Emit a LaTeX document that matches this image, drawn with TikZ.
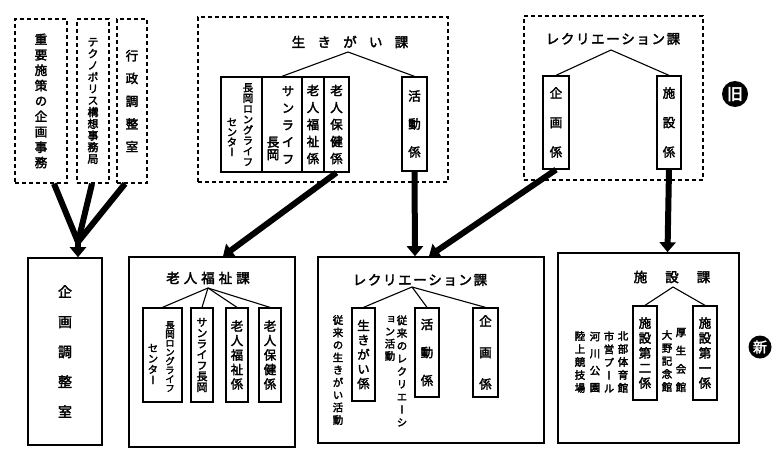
\documentclass[tikz,border=0pt]{standalone}
\usepackage{fontspec}
\newfontfamily\jfont{Noto Sans CJK JP}[FakeBold=2.6]
\newfontfamily\jvfont{Noto Sans CJK JP}[RawFeature=+vert,FakeBold=2.6]
\usetikzlibrary{arrows.meta}
\newcommand\jh[1]{\jfont\fontsize{#1}{#1}\selectfont}
\newcommand\jv[1]{\jvfont\fontsize{#1}{#1}\selectfont}
\ExplSyntaxOn
\NewDocumentCommand \tate { O{14} m }
  {
    \vbox { \baselineskip = #1 pt \relax \lineskiplimit = -100pt \relax
      \tl_map_inline:nn {#2} { \hbox_to_wd:nn { 1em } { \hss ##1 \hss } } }
  }
\NewDocumentCommand \yoko { O{16} m }
  { \tl_map_inline:nn {#2} { \hbox_to_wd:nn { #1 pt } { \hss ##1 \hss } } }
\ExplSyntaxOff

\begin{document}
\begin{tikzpicture}[x=1pt, y=-1pt,
  oldbox/.style={draw, dash pattern=on 4pt off 3pt, line width=1.5pt, inner sep=0pt, font=\jv{12.5pt}},
  newbox/.style={draw, line width=1.6pt, inner sep=0pt, font=\jv{14pt}},
  unit/.style={draw, line width=1.3pt, inner sep=0pt, font=\jv{12.5pt}},
  tatetext/.style={inner sep=0pt, font=\jv{10.5pt}},
  ka/.style={inner sep=0pt, font=\jh{13.5pt}},
  branch/.style={line width=1.1pt},
  bar/.style={line width=6pt},
  transfer/.style={line width=6pt, -{Triangle[length=10pt,width=16pt]}},
  stamp/.style={circle, fill=black, text=white, inner sep=0pt, font=\jh{14pt}}]
\useasboundingbox (0,0) rectangle (779,450);
% old organization
\node[oldbox, minimum width=52pt, minimum height=164pt] (oJuyo) at (41,101) {\tate[15.4]{重要施策の企画事務}};
\node[oldbox, minimum width=32pt, minimum height=164pt, font=\jv{11pt}] (oTechno) at (93,101) {\tate[11.7]{テクノポリス構想事務局}};
\node[oldbox, minimum width=30pt, minimum height=164pt] (oGyosei) at (132,101) {\tate[22.75]{行政調整室}};
\node[oldbox, minimum width=250pt, minimum height=165pt] (oIkigai) at (323,99.5) {};
\node[ka] (oIkigaiT) at (350,42) {\yoko[25.75]{生きがい課}};
\coordinate (kIkigai) at (348,52);
\node[unit, minimum width=41pt, minimum height=95pt] (oLong) at (241.5,124.5) {};
\node[unit, minimum width=40pt, minimum height=95pt] (oSun) at (282,124.5) {};
\node[unit, minimum width=22pt, minimum height=95pt] (oFukushi) at (313,124.5) {\tate[17]{老人福祉係}};
\node[unit, minimum width=25pt, minimum height=95pt] (oHoken) at (336.5,124.5) {\tate[17]{老人保健係}};
\node[tatetext] (oLongA) at (248,124.5) {\tate[10.6]{長岡ロングライフ}};
\node[tatetext] (oLongB) at (232,137) {\tate[10]{センター}};
\node[tatetext, font=\jv{12.5pt}] (oSunA) at (288,125) {\tate[17]{サンライフ}};
\node[tatetext, font=\jv{12.5pt}] (oSunB) at (273,148.5) {\tate[12.5]{長岡}};
\node[unit, minimum width=25pt, minimum height=94pt] (oKatsudo) at (414.5,124) {\tate[28]{活動係}};
\draw[branch] (oSun.north) -- (kIkigai) -- (oKatsudo.north);
\node[oldbox, minimum width=179pt, minimum height=164pt] (oRec) at (613.5,98) {};
\node[ka] (oRecT) at (613,39) {\yoko[15.1]{レクリエーション課}};
\coordinate (kRec) at (611,50);
\node[unit, minimum width=26pt, minimum height=93pt] (oKikaku) at (556,122.5) {\tate[29.5]{企画係}};
\node[unit, minimum width=24pt, minimum height=93pt] (oShisetsu) at (669,122.5) {\tate[29.5]{施設係}};
\draw[branch] (oKikaku.north) -- (kRec) -- (oShisetsu.north);
\node[stamp, minimum size=26pt, font=\jh{16pt}] (oldMark) at (735,94) {旧};
% new organization
\node[newbox, minimum width=74pt, minimum height=187pt] (nKikakuChosei) at (65,351.5) {\tate[30]{企画調整室}};
\node[newbox, minimum width=166pt, minimum height=190pt] (nRoujin) at (212,352) {};
\node[ka] (nRoujinT) at (208,278) {\yoko[17.5]{老人福祉課}};
\coordinate (kRoujin) at (208,288);
\node[unit, minimum width=39pt, minimum height=94pt] (nLong) at (162.5,355) {};
\node[tatetext, font=\jv{9.5pt}] (nLongA) at (170,356.5) {\tate[9]{長岡ロングライフ}};
\node[tatetext] (nLongB) at (153,364) {\tate[10.7]{センター}};
\node[unit, minimum width=22pt, minimum height=94pt, font=\jv{11pt}] (nSun) at (202,355) {\tate[10.8]{サンライフ長岡}};
\node[unit, minimum width=22pt, minimum height=94pt] (nFukushi) at (237,355) {\tate[14.5]{老人福祉係}};
\node[unit, minimum width=22pt, minimum height=94pt] (nHoken) at (270,355) {\tate[14.5]{老人保健係}};
\draw[branch] (kRoujin) -- (nLong.north);
\draw[branch] (kRoujin) -- (nSun.north);
\draw[branch] (kRoujin) -- (nFukushi.north);
\draw[branch] (kRoujin) -- (nHoken.north);
\node[newbox, minimum width=226pt, minimum height=186pt] (nRec) at (431,350) {};
\node[ka] (nRecT) at (420,280) {\yoko[15.1]{レクリエーション課}};
\coordinate (kRecN) at (412,287);
\node[unit, minimum width=23pt, minimum height=93pt] (nIkigai) at (363.5,354.5) {\tate[14.5]{生きがい係}};
\node[unit, minimum width=24pt, minimum height=89pt] (nKatsudo) at (427,352.5) {\tate[28]{活動係}};
\node[unit, minimum width=25pt, minimum height=89pt] (nKikaku) at (485.5,352.5) {\tate[31.5]{企画係}};
\node[tatetext] (nNoteA) at (338,370) {\tate[12.5]{従来の生きがい活動}};
\node[tatetext] (nNoteB) at (402,371) {\tate[12.75]{従来のレクリエーシ}};
\node[tatetext] (nNoteC) at (390,338.5) {\tate[12.3]{ョン活動}};
\draw[branch] (kRecN) -- (nIkigai.north);
\draw[branch] (kRecN) -- (nKatsudo.north);
\draw[branch] (kRecN) -- (nKikaku.north);
\node[newbox, minimum width=181pt, minimum height=190pt] (nShisetsu) at (648.5,348) {};
\node[ka] (nShisetsuT) at (672,277) {\yoko[31.5]{施設課}};
\coordinate (kShisetsu) at (673,287);
\node[unit, minimum width=24pt, minimum height=94pt] (nDai2) at (645,353) {\tate[15]{施設第二係}};
\node[unit, minimum width=24pt, minimum height=94pt] (nDai1) at (705,353) {\tate[15]{施設第一係}};
\node[tatetext] (nKosei) at (681,360) {\tate[18.3]{厚生会館}};
\node[tatetext] (nOno) at (667,361) {\tate[13]{大野記念館}};
\node[tatetext] (nHokubu) at (623,362) {\tate[13]{北部体育館}};
\node[tatetext] (nPool) at (609,362) {\tate[13]{市営プール}};
\node[tatetext] (nKasen) at (595,362) {\tate[17]{河川公園}};
\node[tatetext] (nRikujo) at (580,362) {\tate[13]{陸上競技場}};
\draw[branch] (nDai2.north) -- (kShisetsu) -- (nDai1.north);
\node[stamp, minimum size=23pt] (newMark) at (760,347) {新};
% transfers
\coordinate (kMerge) at (78,242);
\draw[bar] ([xshift=13pt]oJuyo.south) -- (kMerge);
\draw[bar] ([xshift=-1pt]oTechno.south) -- (kMerge);
\draw[bar] ([xshift=-7pt]oGyosei.south) -- (kMerge);
\draw[transfer] (kMerge) -- ([xshift=13pt]nKikakuChosei.north);
\draw[transfer] (oHoken.south) -- ([xshift=11pt]nRoujin.north);
\draw[transfer] (oKatsudo.south) -- ([xshift=-16pt]nRec.north);
\draw[transfer] (oKikaku.south) -- ([xshift=-2pt]nRec.north);
\draw[transfer] (oShisetsu.south) -- ([xshift=19pt]nShisetsu.north);
\end{tikzpicture}
\end{document}
